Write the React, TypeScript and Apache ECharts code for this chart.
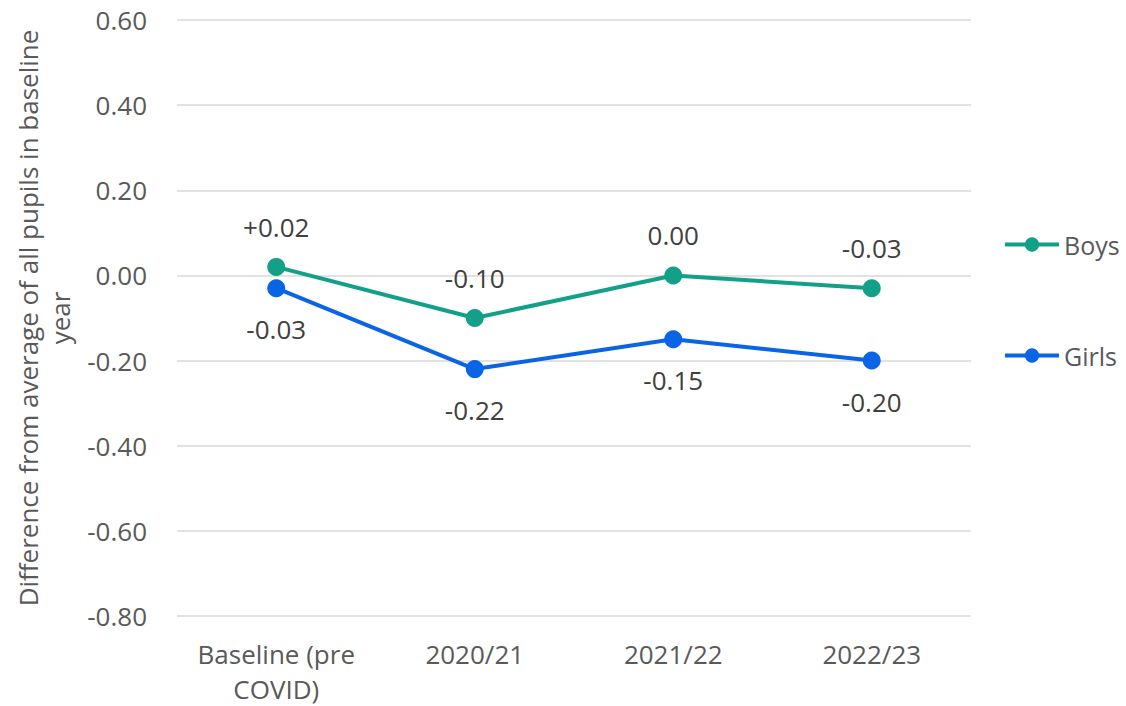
import React, { useEffect, useRef } from "react";
import * as echarts from "echarts";

const categories = ["Baseline (pre\nCOVID)", "2020/21", "2021/22", "2022/23"];
const boys = [0.02, -0.1, 0.0, -0.03];
const girls = [-0.03, -0.22, -0.15, -0.2];
const yTicks = { min: -0.8, max: 0.6, interval: 0.2 };
const yName = "Difference from average of all pupils in baseline\nyear";

const fmt = (v: number, plus: boolean) => {
  const s = v.toFixed(2);
  return plus && v > 0 ? "+" + s : s;
};

export default function App() {
  const ref = useRef<HTMLDivElement>(null);
  useEffect(() => {
    const chart = echarts.init(ref.current!, undefined, { renderer: "svg" });
    const font = "Open Sans";
    const labelStyle = { fontFamily: font, fontSize: 26, color: "#404040" };
    chart.setOption({
      animation: false,
      grid: { left: 177, right: 155, top: 20, bottom: 84 },
      legend: {
        orient: "vertical",
        left: 998,
        top: 227,
        itemWidth: 54,
        itemHeight: 18,
        itemGap: 86,
        lineStyle: { width: 4 },
        textStyle: { fontFamily: font, fontSize: 25, color: "#595959" },
        data: ["Boys", "Girls"],
      },
      xAxis: {
        type: "category",
        data: categories,
        boundaryGap: true,
        axisLine: { show: false },
        axisTick: { show: false },
        axisLabel: { interval: 0, fontFamily: font, fontSize: 26, color: "#595959", margin: 20, lineHeight: 35 },
      },
      yAxis: {
        type: "value",
        min: yTicks.min,
        max: yTicks.max,
        interval: yTicks.interval,
        name: yName,
        nameLocation: "middle",
        nameGap: 100,
        nameTextStyle: { fontFamily: font, fontSize: 26, color: "#595959", lineHeight: 32 },
        axisLabel: {
          fontFamily: font,
          fontSize: 26,
          color: "#595959",
          margin: 30,
          formatter: (v: number) => v.toFixed(2),
        },
        splitLine: { lineStyle: { color: "#d9d9d9", width: 1.5 } },
      },
      series: [
        {
          name: "Boys",
          type: "line",
          data: boys,
          color: "#13a088",
          symbol: "circle",
          symbolSize: 18,
          lineStyle: { width: 4 },
          label: {
            show: true,
            position: "top",
            distance: 18,
            ...labelStyle,
            formatter: (p: any) => fmt(p.value, true),
          },
        },
        {
          name: "Girls",
          type: "line",
          data: girls,
          color: "#0a64e6",
          symbol: "circle",
          symbolSize: 18,
          lineStyle: { width: 4 },
          label: {
            show: true,
            position: "bottom",
            distance: 19,
            ...labelStyle,
            formatter: (p: any) => fmt(p.value, false),
          },
        },
      ],
    });
    return () => chart.dispose();
  }, []);
  return <div ref={ref} style={{ width: 1126, height: 706, position: "absolute", left: 0, top: 0 }} />;
}
